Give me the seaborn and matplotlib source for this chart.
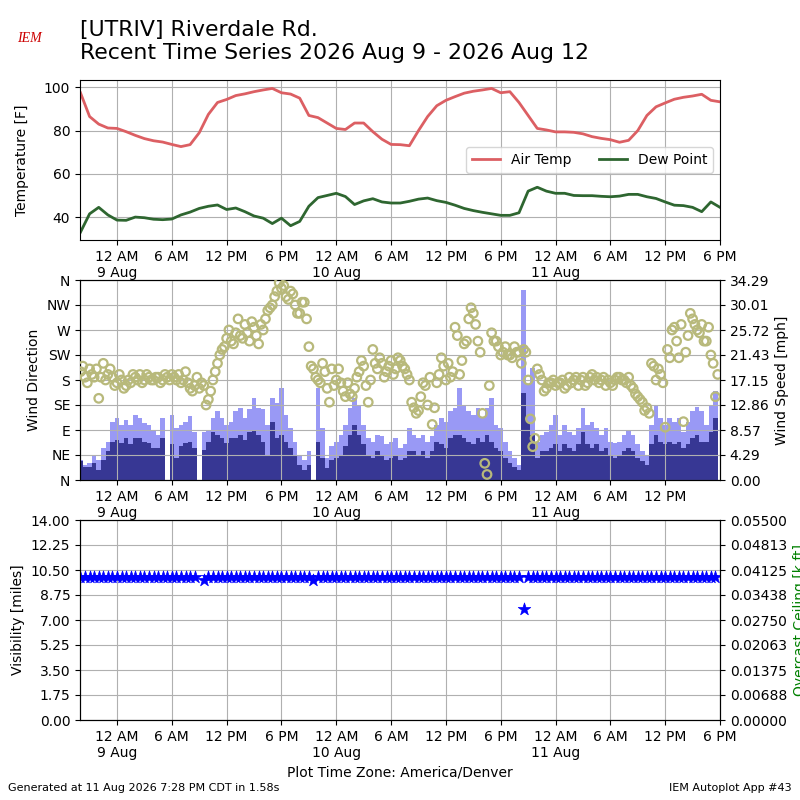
import matplotlib
matplotlib.use('Agg')
import matplotlib.pyplot as plt
import seaborn as sns
import pandas as pd
from datetime import timedelta

title_text = '[UTRIV] Riverdale Rd.\nRecent Time Series 2026 Aug 9 - 2026 Aug 12'

# hourly temperature [F], first value at 8 Aug 20:00 (America/Denver)
air_temp = [97.5, 86.5, 83.0, 81.2, 81.0, 79.5, 77.8, 76.3, 75.3, 74.7,
            73.6, 72.6, 73.5, 79.0, 87.5, 93.0, 94.4, 96.2, 97.0, 98.0,
            98.8, 99.5, 97.5, 96.9, 95.0, 87.0, 86.0, 83.5, 81.0, 80.5,
            83.5, 83.5, 79.5, 76.0, 73.6, 73.5, 73.0, 80.0, 86.5, 91.5,
            94.0, 95.7, 97.3, 98.2, 98.8, 99.5, 97.5, 98.0, 93.0, 87.0,
            81.0, 80.3, 79.4, 79.4, 79.2, 78.5, 77.2, 76.4, 75.8, 74.6,
            75.5, 80.0, 87.0, 91.0, 92.8, 94.5, 95.4, 96.0, 96.8, 94.0, 93.3]
dew_point = [33.0, 41.5, 44.5, 41.0, 38.6, 38.5, 40.0, 39.7, 39.0, 38.8,
             39.1, 41.0, 42.3, 44.0, 45.0, 45.6, 43.5, 44.2, 42.5, 40.5,
             39.5, 37.0, 39.5, 36.0, 38.0, 45.0, 49.0, 50.0, 51.0, 49.5,
             45.8, 47.5, 48.5, 47.0, 46.5, 46.5, 47.3, 48.3, 48.8, 47.6,
             46.8, 45.5, 44.0, 43.0, 42.2, 41.5, 40.8, 40.8, 42.0, 52.0,
             53.8, 52.0, 51.0, 51.0, 50.0, 49.9, 49.9, 49.6, 49.4, 49.7,
             50.5, 50.5, 49.4, 48.6, 47.0, 45.5, 45.3, 44.5, 42.5, 47.0, 44.5]

# half hourly wind, first value at 8 Aug 20:00
wind_gust = [3.5, 2.6, 2.9, 4.3, 3.5, 5.5, 6.6, 10.0,
             10.6, 9.5, 10.3, 9.5, 11.2, 10.6, 9.8, 9.5,
             8.6, 7.8, 10.6, 0.0, 11.2, 8.9, 9.5, 10.0,
             10.9, 8.3, 0.0, 8.3, 8.6, 10.6, 11.8, 10.6,
             9.5, 10.0, 11.8, 12.3, 10.6, 12.1, 14.0, 12.3,
             12.1, 9.5, 14.0, 13.2, 15.8, 11.2, 8.9, 6.6,
             4.3, 3.5, 4.9, 0.0, 15.8, 8.9, 3.8, 5.8,
             6.6, 7.8, 9.5, 12.3, 14.0, 12.9, 9.5, 7.2,
             6.6, 7.8, 7.5, 6.1, 6.6, 7.2, 5.5, 6.1,
             8.9, 7.8, 7.2, 7.8, 6.6, 7.5, 9.5, 10.6,
             10.0, 11.8, 12.3, 15.8, 12.9, 11.8, 11.2, 12.3,
             10.6, 12.3, 14.0, 9.5, 8.9, 6.6, 4.9, 3.8,
             2.6, 32.6, 16.3, 19.2, 6.6, 7.8, 8.3, 9.5,
             11.2, 7.8, 9.5, 8.3, 7.8, 8.9, 12.3, 9.5,
             10.0, 8.9, 7.8, 8.9, 6.6, 6.3, 6.6, 7.8,
             8.6, 7.8, 6.1, 4.9, 4.3, 9.5, 12.9, 10.6,
             9.5, 10.6, 10.0, 10.6, 8.3, 10.0, 11.8, 12.6,
             11.8, 9.5, 12.9, 15.2]
wind_speed = [3.2, 2.3, 2.3, 2.9, 1.8, 3.5, 4.9, 6.6,
              6.9, 6.3, 7.2, 6.1, 7.2, 7.2, 6.6, 6.3,
              5.5, 5.5, 7.2, 0.0, 6.1, 3.8, 5.8, 6.3,
              6.6, 5.5, 0.0, 5.2, 6.6, 8.3, 7.8, 7.2,
              6.3, 7.2, 7.2, 7.8, 6.9, 8.3, 8.6, 7.8,
              6.6, 4.3, 10.0, 7.2, 7.8, 6.6, 5.5, 4.1,
              2.6, 1.8, 2.6, 0.0, 6.6, 3.8, 2.1, 3.5,
              3.8, 4.3, 5.8, 7.8, 9.5, 7.8, 6.1, 4.3,
              3.8, 4.9, 4.3, 3.5, 3.8, 4.1, 3.5, 3.8,
              4.9, 4.9, 4.1, 4.9, 3.8, 4.9, 6.6, 6.1,
              5.5, 7.2, 7.8, 7.8, 7.2, 6.6, 6.1, 7.2,
              6.6, 7.8, 6.6, 5.5, 4.9, 3.8, 2.9, 2.3,
              1.8, 14.9, 10.0, 7.8, 3.8, 4.9, 4.9, 5.5,
              6.1, 4.9, 6.1, 5.5, 4.9, 6.1, 8.3, 6.1,
              5.5, 6.1, 4.9, 5.5, 4.3, 3.8, 4.3, 4.9,
              5.5, 4.9, 3.8, 3.2, 2.6, 6.1, 7.8, 6.6,
              6.1, 6.6, 6.1, 6.6, 5.5, 6.1, 7.2, 7.8,
              6.6, 6.6, 8.3, 10.6]
# wind direction [deg] on the hour / half hour
wind_dir = [195, 185, 200, 185, 147, 210, 190, 185,
            175, 180, 170, 175, 185, 190, 180, 185,
            180, 185, 180, 185, 190, 180, 175, 195,
            165, 170, 165, 170, 145, 180, 210, 235,
            255, 250, 265, 260, 280, 250, 275, 245,
            270, 305, 315, 340, 345, 330, 340, 315,
            300, 320, 240, 200, 180, 210, 165, 200,
            180, 175, 150, 155, 165, 195, 205, 140,
            235, 200, 210, 195, 215, 200, 215, 200,
            180, 130, 125, 175, 135, 100, 175, 220,
            180, 185, 275, 190, 245, 290, 300, 250,
            120, 10, 265, 250, 225, 240, 225, 240,
            230, 235, 180, 60, 200, 180, 165, 175,
            170, 175, 165, 185, 180, 170, 185, 175,
            190, 185, 180, 170, 175, 180, 185, 180,
            185, 165, 150, 140, 130, 210, 180, 190,
            95, 220, 275, 220, 105, 260, 290, 270,
            280, 250, 225, 150]
# wind direction [deg] a quarter hour later
wind_dir_q = [205, 175, 190, 200, 185, 180, 200, 170,
              190, 165, 180, 190, 180, 175, 190, 180,
              185, 175, 190, 180, 185, 190, 180, 175,
              160, 185, 175, 135, 160, 195, 225, 240,
              270, 245, 290, 255, 265, 285, 260, 280,
              290, 310, 330, 355, 350, 325, 335, 300,
              320, 290, 205, 185, 175, 195, 140, 170,
              200, 160, 175, 150, 185, 215, 170, 180,
              210, 220, 185, 205, 190, 220, 205, 190,
              140, 120, 150, 170, 185, 130, 190, 205,
              210, 195, 260, 215, 250, 310, 280, 230,
              30, 170, 250, 240, 230, 225, 220, 230,
              210, 230, 110, 75, 190, 160, 175, 180,
              175, 180, 170, 175, 185, 180, 170, 185,
              180, 175, 185, 180, 170, 185, 180, 175,
              170, 155, 145, 125, 120, 205, 200, 175,
              235, 270, 250, 280, 230, 300, 280, 265,
              250, 275, 210, 190]
nan = float('nan')
visibility = [10.0, 10.0, 10.0, 10.0, 10.0, 10.0, 10.0, 10.0, 10.0, 10.0,
              10.0, 10.0, 10.0, 10.0, 10.0, 10.0, 10.0, 10.0, 10.0, 10.0,
              10.0, 10.0, 10.0, 10.0, 10.0, 10.0, nan, 9.8, 10.0, 10.0,
              10.0, 10.0, 10.0, 10.0, 10.0, 10.0, 10.0, 10.0, 10.0, 10.0,
              10.0, 10.0, 10.0, 10.0, 10.0, 10.0, 10.0, 10.0, 10.0, 10.0,
              10.0, 9.8, 10.0, 10.0, 10.0, 10.0, 10.0, 10.0, 10.0, 10.0,
              10.0, 10.0, 10.0, 10.0, 10.0, 10.0, 10.0, 10.0, 10.0, 10.0,
              10.0, 10.0, 10.0, 10.0, 10.0, 10.0, 10.0, 10.0, 10.0, 10.0,
              10.0, 10.0, 10.0, 10.0, 10.0, 10.0, 10.0, 10.0, 10.0, 10.0,
              10.0, 10.0, 10.0, 10.0, 10.0, 10.0, 10.0, 7.75, 10.0, 10.0,
              10.0, 10.0, 10.0, 10.0, 10.0, 10.0, 10.0, 10.0, 10.0, 10.0,
              10.0, 10.0, 10.0, 10.0, 10.0, 10.0, 10.0, 10.0, 10.0, 10.0,
              10.0, 10.0, 10.0, 10.0, 10.0, 10.0, 10.0, 10.0, 10.0, 10.0,
              10.0, 10.0, 10.0, 10.0, 10.0, 10.0, 10.0, 10.0, 10.0, 10.0]

dir_labels = ['N', 'NE', 'E', 'SE', 'S', 'SW', 'W', 'NW', 'N']
speed_labels = ['0.00', '4.29', '8.57', '12.86', '17.15', '21.43', '25.72', '30.01', '34.29']
vis_labels = ['0.00', '1.75', '3.50', '5.25', '7.00', '8.75', '10.50', '12.25', '14.00']
ceil_labels = ['0.00000', '0.00688', '0.01375', '0.02063', '0.02750',
               '0.03438', '0.04125', '0.04813', '0.05500']

temp_times = pd.date_range('2026-08-08 20:00', periods=len(air_temp), freq='h')
wind_times = pd.date_range('2026-08-08 20:00', periods=len(wind_speed), freq='30min')
dir_times = wind_times.append(wind_times + pd.Timedelta(minutes=15))
dir_values = wind_dir + wind_dir_q
tick_times = pd.date_range('2026-08-09 00:00', '2026-08-11 18:00', freq='6h')
tick_labels = [t.strftime('%-I %p') + (t.strftime('\n%-d %b') if t.hour == 0 else '')
               for t in tick_times]
xmin = pd.Timestamp('2026-08-08 19:57')
xmax = pd.Timestamp('2026-08-11 18:00')

fig = plt.figure(figsize=(8, 8), dpi=100)

# temperature panel
ax1 = fig.add_axes([0.1, 0.7, 0.8, 0.2])
sns.lineplot(x=temp_times, y=air_temp, ax=ax1, color='#dc5f63', lw=2, label='Air Temp')
sns.lineplot(x=temp_times, y=dew_point, ax=ax1, color='#2e6630', lw=2, label='Dew Point')
ax1.set_ylim(29.4, 103.4)
ax1.set_yticks([40, 60, 80, 100])
ax1.set_ylabel('Temperature [F]', labelpad=11)
ax1.legend(loc='center right', ncol=2)
ax1.grid(True)

# wind panel
ax2 = fig.add_axes([0.1, 0.4, 0.8, 0.25])
ax2b = ax2.twinx()
bar_x = wind_times.to_pydatetime()
ax2b.bar(bar_x, wind_gust, width=timedelta(minutes=30), color='#9999f5', linewidth=0)
ax2b.bar(bar_x, wind_speed, width=timedelta(minutes=30), color='#373794', linewidth=0)
ax2b.set_ylim(0, 34.29)
ax2b.set_yticks([i * 34.29 / 8 for i in range(9)])
ax2b.set_yticklabels(speed_labels)
ax2b.set_ylabel('Wind Speed [mph]')
sns.scatterplot(x=dir_times, y=dir_values, ax=ax2, marker='o', s=38,
                facecolor='none', edgecolor='#b8b97b', linewidth=1.6, zorder=3)
ax2.set_zorder(ax2b.get_zorder() + 1)
ax2.patch.set_visible(False)
ax2.set_ylim(0, 360)
ax2.set_yticks(range(0, 361, 45))
ax2.set_yticklabels(dir_labels)
ax2.set_ylabel('Wind Direction')
ax2.grid(True)

# visibility panel
ax3 = fig.add_axes([0.1, 0.1, 0.8, 0.25])
sns.scatterplot(x=wind_times, y=visibility, ax=ax3, marker='*', s=90,
                color='#0000ff', edgecolor='#0000ff', linewidth=0.5, zorder=3)
ax3.set_ylim(0, 14)
ax3.set_yticks([i * 1.75 for i in range(9)])
ax3.set_yticklabels(vis_labels)
ax3.set_ylabel('Visibility [miles]')
ax3.grid(True)
ax3b = ax3.twinx()
ax3b.set_ylim(0, 0.055)
ax3b.set_yticks([i * 0.055 / 8 for i in range(9)])
ax3b.set_yticklabels(ceil_labels)
ax3b.set_ylabel('Overcast Ceiling [k ft]', color='green')

for ax in (ax1, ax2, ax3):
    ax.set_xlim(xmin, xmax)
    ax.set_xlabel('')
ax1.set_xticks(tick_times)
ax1.set_xticklabels(tick_labels)
ax2.set_xticks(tick_times[:-1])
ax2.set_xticklabels(tick_labels[:-1])
ax3.set_xticks(tick_times)
ax3.set_xticklabels(tick_labels)
ax3.set_xlabel('Plot Time Zone: America/Denver')

fig.text(0.1, 0.975, title_text, va='top', ha='left', fontsize=15.8)
fig.text(0.021, 0.947, 'IEM', color='#cc0000', fontsize=10, style='italic',
         family='Liberation Serif')
fig.text(0.01, 0.011, 'Generated at 11 Aug 2026 7:28 PM CDT in 1.58s', fontsize=8)
fig.text(0.99, 0.011, 'IEM Autoplot App #43', fontsize=8, ha='right')

fig.savefig('out.png', dpi=100)
